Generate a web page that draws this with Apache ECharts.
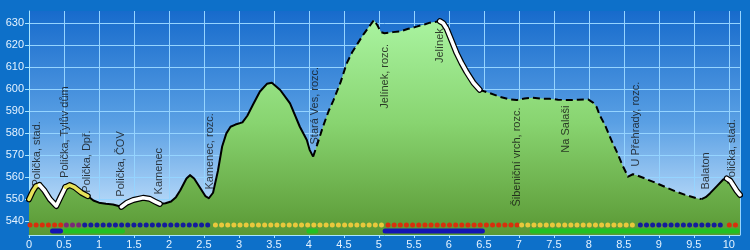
<!DOCTYPE html>
<html><head><meta charset="utf-8">
<script src="https://cdn.jsdelivr.net/npm/echarts@6/dist/echarts.min.js"></script>
<style>html,body{margin:0;padding:0;background:#0d70c9}#c{width:750px;height:250px}</style>
</head><body><div id="c"></div>
<script>
// Elevation profile
const distKm = [0,0.05,0.10,0.15,0.22,0.30,0.39,0.45,0.52,0.58,
0.65,0.75,0.84,0.92,1.00,1.10,1.20,1.32,1.40,1.49,
1.63,1.72,1.80,1.87,1.95,2.03,2.10,2.16,2.25,2.30,
2.36,2.44,2.52,2.57,2.63,2.70,2.76,2.82,2.88,2.95,
3.05,3.12,3.20,3.30,3.40,3.47,3.59,3.73,3.87,3.97,
4.01,4.06,4.13,4.20,4.28,4.35,4.45,4.54,4.62,4.70,
4.78,4.86,4.93,4.98,5.03,5.08,5.20,5.30,5.42,5.54,
5.65,5.73,5.87,5.92,5.97,6.04,6.11,6.18,6.25,6.35,
6.44,6.59,6.73,6.85,6.97,7.08,7.20,7.32,7.44,7.56,
7.68,7.85,7.99,8.06,8.11,8.16,8.23,8.32,8.40,8.48,
8.56,8.63,8.68,8.80,8.97,9.10,9.25,9.40,9.54,9.61,
9.67,9.73,9.83,9.92,9.97,10.02,10.06,10.11,10.16];
const elevM = [550,553.5,556,556.5,554,550,547,551,555.5,556.5,
555.5,553,551.5,549.5,548.5,548,547.7,546.6,548.5,549.7,
550.7,550.3,549,547.9,548.2,549,551,554,559.5,561,
559.5,555.5,551.5,550.5,553,563,574,580,583,584,
585,588,593,599,602.5,603,599.7,593.6,583,577,
572.5,569.4,576,583,590,595,603,611.8,617,621,
625,628.5,631.5,629,626,625.5,626,626.3,627.5,628.5,
629.5,630.3,631,630,627.5,622,616.5,612,608,603,
599.8,598.2,596.6,595.6,595.1,595.8,596.2,595.8,595.7,595.3,
595.1,595.3,595.4,594,592,588,583.8,577,571.6,565.5,
560.3,561.4,561,559.5,557.3,555.5,553.5,551.8,550.5,550.1,
551,552.7,556,559,559.5,558.5,556.5,554,552];

// Line style sections along the profile
const sectFrom = [0, 0.15, 0.52, 0.84, 1.32, 1.87, 4.06, 5.87, 6.44, 9.61, 9.97];
const sectTo   = [0.15, 0.52, 0.84, 1.32, 1.87, 4.06, 5.87, 6.44, 9.61, 9.97, 10.16];
const sectKind = ['yellow','white','yellow','solid','white','solid','dashed','white','dashed','solid','white'];

// Waypoint labels
const wpNames = ['Polička, stad.','Polička, Tylův dům','Polička, Dpř.','Polička, ČOV','Kamenec','Kamenec, rozc.',
  'Stará Ves, rozc.','Jelínek, rozc.','Jelínek','Šibeniční vrch, rozc.','Na Salaši','U Přehrady, rozc.','Balaton','Polička, stad.'];
const wpKm = [0.11,0.52,0.83,1.32,1.86,2.59,4.09,5.08,5.87,6.97,7.68,8.68,9.68,10.04];
const wpLabelElev = [555.6,559.5,552.8,551,552,554.2,574.7,591,611.7,546.5,571,564.7,554.2,556.5];

// Surface strip (dots)
const surfFrom = [0.014,0.534,0.796,2.664,5.13,7.04,8.736,10.007];
const surfTo   = [0.447,0.709,2.586,5.086,6.967,8.657,9.91,10.10];
const surfType = ['red','purple','blue','yellow','red','yellow','blue','red'];

// Category strip (bars)
const barFrom = [0.336,0.526,4.0,5.089,7.193];
const barTo   = [0.45,1.336,4.097,6.479,10.12];
const barType = ['blue','green','green','blue','green'];

const yTicks = [540,550,560,570,580,590,600,610,620,630];

const profile = distKm.map((d,i)=>[d, elevM[i]]);
const FONT = 'Liberation Sans, Arial, sans-serif';
const DOT_ROW = 538.3, BAR_ROW = 535.6;
const dotColors = {red:'#d8300c', purple:'#7a2a78', blue:'#141c9c', yellow:'#e8c83c'};
const barColors = {blue:'#1414b4', green:'#22c022'};

const series = [];
series.push({
  type:'line', data: profile, symbol:'none', z:2,
  lineStyle:{width:0},
  areaStyle:{origin:'start', opacity:1,
    color: new echarts.graphic.LinearGradient(0,11,0,235,[
      {offset:0,color:'#acf6a4'},{offset:0.5,color:'#88d470'},{offset:1,color:'#5a9834'}], true)}
});
series.push({
  type:'scatter', z:3, symbolSize:1, itemStyle:{color:'rgba(0,0,0,0)'},
  data: wpNames.map((n,i)=>({name:n, value:[wpKm[i], wpLabelElev[i]]})),
  label:{show:true, position:'top', distance:0, rotate:90, align:'left', verticalAlign:'middle',
    formatter:p=>p.name, color:'#111', fontSize:11, fontFamily:FONT}
});
surfFrom.forEach((f,i)=>{
  series.push({type:'line', z:3, symbol:'none', data:[[f,DOT_ROW],[surfTo[i]+0.01,DOT_ROW]],
    lineStyle:{color:dotColors[surfType[i]], width:5, type:[0.01,6.14], cap:'round'}});
});
barFrom.forEach((f,i)=>{
  series.push({type:'line', z:3, symbol:'none', data:[[f,BAR_ROW],[barTo[i],BAR_ROW]],
    lineStyle:{color:barColors[barType[i]], width:5, cap:'round'}});
});
sectFrom.forEach((f,i)=>{
  const pts = profile.filter(p=>p[0]>=f-1e-9 && p[0]<=sectTo[i]+1e-9);
  const k = sectKind[i];
  if (k==='white' || k==='yellow') {
    series.push({type:'line', z:4, symbol:'none', data:pts,
      lineStyle:{color:'#000', width:6, cap:'round', join:'round'}});
    series.push({type:'line', z:5, symbol:'none', data:pts,
      lineStyle:{color: k==='white' ? '#ffffff' : '#e6e25a', width:3.6, cap:'round', join:'round'}});
  } else {
    series.push({type:'line', z:4, symbol:'none', data:pts,
      lineStyle:{color:'#000', width:2, type: k==='dashed' ? [7,4] : 'solid', join:'round'}});
  }
});

const axisCol = '#a8e6ff';
const chart = echarts.init(document.getElementById('c'), null, {renderer:'canvas'});
chart.setOption({
  animation:false,
  backgroundColor:'#0d70c9',
  grid:{left:29, right:10, top:11, bottom:15, show:true, borderWidth:0, containLabel:false, outerBoundsMode:'none',
    backgroundColor: new echarts.graphic.LinearGradient(0,0,0,1,[
      {offset:0,color:'#176bcc'},{offset:0.5,color:'#5aa0e4'},{offset:1,color:'#d6ecff'}])},
  xAxis:{type:'value', min:0, max:10.16, interval:0.5,
    axisLine:{show:true, lineStyle:{color:axisCol, width:1}},
    axisTick:{show:true, length:3, lineStyle:{color:axisCol}},
    axisLabel:{color:'#e4f2ff', fontSize:11, fontFamily:FONT, margin:4, showMaxLabel:false},
    splitLine:{show:true, lineStyle:{color:'#95d4ff', width:1}}},
  yAxis:{type:'value', min:533.8, max:635.6,
    axisLine:{show:true, lineStyle:{color:axisCol, width:1}},
    axisTick:{show:true, length:4, lineStyle:{color:axisCol}, customValues:yTicks},
    axisLabel:{color:'#e4f2ff', fontSize:11, fontFamily:FONT, margin:5, customValues:yTicks},
    splitLine:{show:true, lineStyle:{color:'#95d4ff', width:1}}},
  series: series
});
</script></body></html>
